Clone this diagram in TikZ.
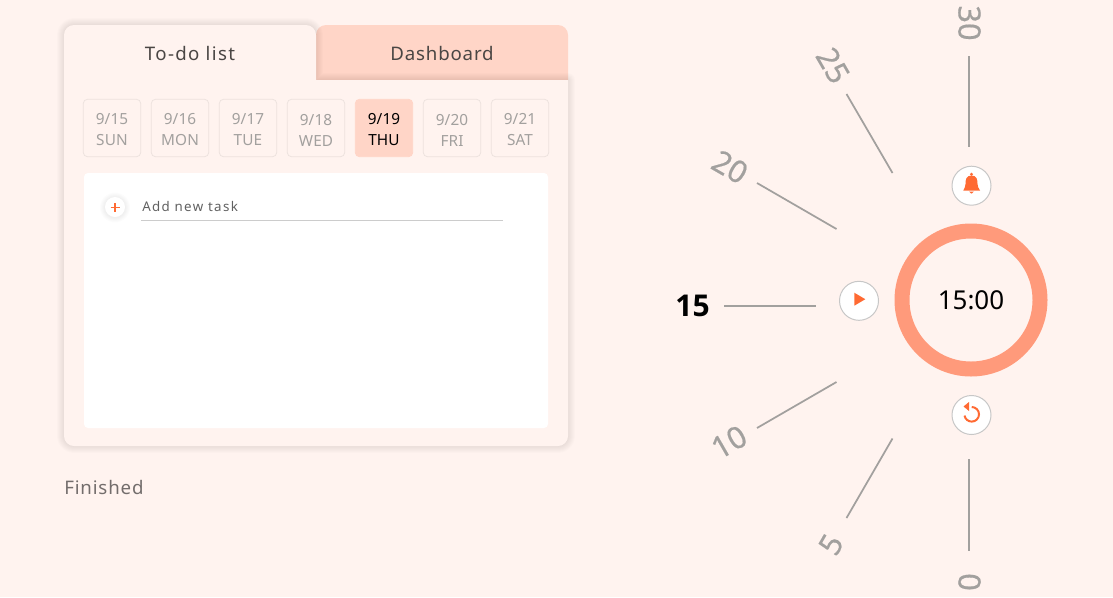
\documentclass[tikz,border=0pt]{standalone}
\usepackage{fontspec}
\setmainfont{Noto Sans}
\newfontfamily\heavyfont{Open Sans}
\definecolor{pagebg}{HTML}{FFF3EF}
\definecolor{tabpeach}{HTML}{FFD5C7}
\definecolor{ringpeach}{HTML}{FF9A7B}
\definecolor{iconorange}{HTML}{FF6A33}
\definecolor{softgrey}{HTML}{A2A09E}
\definecolor{darktext}{HTML}{4A4644}
\tikzset{
  datebox/.style={draw=#1,line width=0.6pt,rounded corners=3pt,minimum width=43pt,minimum height=43pt,inner sep=0pt,
    align=center,text height=27pt,text=softgrey,font=\fontsize{11.5}{15.75}\selectfont\addfontfeature{LetterSpace=1}},
  datebox/.default={black!7!pagebg},
  tabtext/.style={text=darktext,font=\fontsize{14}{18}\selectfont\addfontfeature{LetterSpace=4.5}},
  iconbtn/.style={circle,draw=black!22,fill=white,line width=0.75pt,minimum size=29.25pt,inner sep=0pt},
  ticktext/.style={text=softgrey,font=\fontsize{23}{24}\selectfont\addfontfeature{FakeBold=0.5}},
  tickline/.style={draw=softgrey,line width=1.3pt},
}
\begin{document}
\begin{tikzpicture}[x=0.75pt,y=-0.75pt]
  \useasboundingbox (0,0) rectangle (1113,597);
  \fill[pagebg] (0,0) rectangle (1113,597);

  % Dashboard tab
  \fill[tabpeach,rounded corners=7.5pt] (316,90) -- (316,25) -- (568,25) -- (568,90) -- cycle;
  \node[tabtext] (dashtab) at (442,53.5) {Dashboard};

  % Card shadow
  \foreach \w in {2,4,...,14}
    \draw[black,opacity=0.012,line width=\w*0.75pt,line join=round]
      (64,35) arc[start angle=180,end angle=270,radius=10] -- (306,25)
      arc[start angle=-90,end angle=0,radius=10] -- (316,80) -- (568,80) -- (568,436)
      arc[start angle=0,end angle=90,radius=10] -- (74,446)
      arc[start angle=90,end angle=180,radius=10] -- cycle;

  % Card
  \fill[pagebg] (64,35) arc[start angle=180,end angle=270,radius=10] -- (306,25)
      arc[start angle=-90,end angle=0,radius=10] -- (316,80) -- (568,80) -- (568,436)
      arc[start angle=0,end angle=90,radius=10] -- (74,446)
      arc[start angle=90,end angle=180,radius=10] -- cycle;
  \node[tabtext,font=\fontsize{14}{18}\selectfont\addfontfeature{LetterSpace=7.2}] (todotab) at (190,53.5) {To-do list};

  % Dates
  \node[datebox] (d15) at (112,128) {9/15\\SUN};
  \node[datebox] (d16) at (180,128) {9/16\\MON};
  \node[datebox] (d17) at (248,128) {9/17\\TUE};
  \node[datebox] (d18) at (316,128) {9/18\\WED};
  \node[datebox=tabpeach,fill=tabpeach,text=black] (d19) at (384,128) {9/19\\THU};
  \node[datebox] (d20) at (452,128) {9/20\\FRI};
  \node[datebox] (d21) at (520,128) {9/21\\SAT};

  % Task panel
  \fill[white,rounded corners=3pt] (84,173) rectangle (548,428);
  \foreach \w in {1,2,...,5}
    \fill[black,opacity=0.012] (115,207.5) circle[radius=10+\w];
  \node[circle,fill=white,minimum size=15pt,inner sep=0pt] (addbtn) at (115,207) {};
  \draw[iconorange,line width=1pt] (110.5,207.5) -- (119.5,207.5) (115,203) -- (115,212);
  \node[anchor=west,inner sep=0pt,text=black!62,font=\fontsize{10}{12}\selectfont\addfontfeature{LetterSpace=10}] (addtext) at (142,206) {Add new task};
  \draw[black!20,line width=0.75pt] (141,220.5) -- (503,220.5);

  \node[anchor=west,inner sep=0pt,text=black!55!pagebg,font=\fontsize{14}{18}\selectfont\addfontfeature{LetterSpace=4.5}] (finished) at (64,487.5) {Finished};

  % Timer
  \node[circle,draw=ringpeach,line width=11.25pt,minimum size=103.5pt,inner sep=0pt,font=\fontsize{19.5}{20}\selectfont] (clock) at (971,300) {15:00};
  \node[iconbtn] (bell) at (971.5,185.7) {};
  \node[iconbtn] (play) at (859,300.8) {};
  \node[iconbtn] (reset) at (971.5,415) {};

  % Icons
  \fill[iconorange] (971.5,174.3) circle[radius=1.6];
  \fill[iconorange] (971.5,175.5) .. controls (966,175.5) and (965.5,180) .. (965.5,184) .. controls (965.5,187) and (964.5,187.5) .. (963.3,190.5) -- (980,190.5) .. controls (978.5,187.5) and (977.5,187) .. (977.5,184) .. controls (977.5,180) and (977,175.5) .. (971.5,175.5) -- cycle;
  \fill[iconorange] (969,191.5) -- (974,191.5) -- (971.5,193.7) -- cycle;
  \fill[iconorange] (854.3,292.7) -- (854.3,305.7) -- (865.3,299.2) -- cycle;
  \draw[iconorange,line width=1.5pt] (971.7,407) arc[start angle=-90,end angle=170,radius=7.3];
  \fill[iconorange] (969,402) -- (969,411) -- (963.5,406.5) -- cycle;

  % Minute labels
  \node[ticktext,rotate=-90] (m30) at (969.5,23) {30};
  \node[ticktext,rotate=-60] (m25) at (833,65.5) {25};
  \node[ticktext,rotate=-30] (m20) at (730,167) {20};
  \node[text=black,font=\heavyfont\fontsize{22.5}{24}\selectfont\bfseries] (m15) at (692.5,305.5) {15};
  \node[ticktext,rotate=30] (m10) at (729,442) {10};
  \node[ticktext,rotate=60] (m5) at (831,544.5) {5};
  \node[ticktext,rotate=90] (m0) at (969.5,582) {0};

  % Minute ticks
  \coordinate (t30a) at (969,56); \coordinate (t30b) at (969,147);
  \coordinate (t25a) at (846.5,94); \coordinate (t25b) at (892.5,173);
  \coordinate (t20a) at (757,183); \coordinate (t20b) at (836.5,229);
  \coordinate (t15a) at (724,306); \coordinate (t15b) at (816,306);
  \coordinate (t10a) at (757,428); \coordinate (t10b) at (836.5,382);
  \coordinate (t5a) at (846.5,518); \coordinate (t5b) at (892.5,438.5);
  \coordinate (t0a) at (969,459); \coordinate (t0b) at (969,551);
  \draw[tickline] (t30a) -- (t30b);
  \draw[tickline] (t25a) -- (t25b);
  \draw[tickline] (t20a) -- (t20b);
  \draw[tickline] (t15a) -- (t15b);
  \draw[tickline] (t10a) -- (t10b);
  \draw[tickline] (t5a) -- (t5b);
  \draw[tickline] (t0a) -- (t0b);
\end{tikzpicture}
\end{document}
